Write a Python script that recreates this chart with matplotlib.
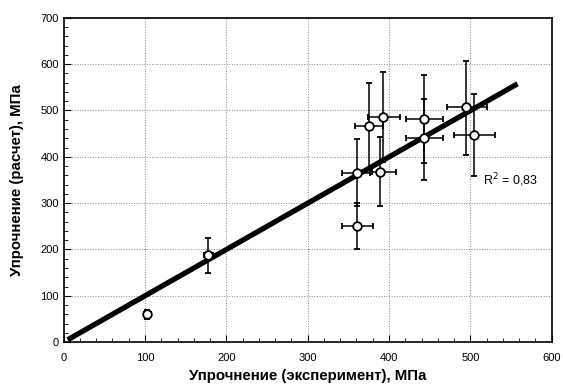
import numpy as np
import matplotlib.pyplot as plt
from matplotlib.ticker import MultipleLocator

plt.rcParams['font.family'] = ['Liberation Sans', 'DejaVu Sans']

# experiment vs calculation, MPa
x_exp = [103, 178, 360.7, 360.7, 375.5, 388.6, 392.6, 443.5, 443.5, 495, 505]
y_calc = [60, 187, 251, 366, 467, 368, 485.7, 481, 440, 507, 447.5]
x_lo = [4, 6, 19, 19, 17.5, 10, 18.5, 22.5, 22.5, 24, 25.5]
x_hi = [4, 6, 19, 15.5, 17, 20.5, 20.5, 22.5, 22.5, 25, 25.5]
y_lo = [10, 38, 50, 73, 95, 74, 96, 95, 90, 104, 90]
y_hi = [10, 37, 50, 72, 92, 74, 97, 95, 85, 99, 88]

fit_x = [5, 558]
fit_y = [5, 557.6]

fig = plt.figure(figsize=(5.63, 3.87), dpi=100)
ax = fig.add_axes([0.113, 0.116, 0.867, 0.838])

ax.plot(fit_x, fit_y, color='black', lw=3.8, solid_capstyle='butt', zorder=3)
ax.errorbar(x_exp, y_calc, xerr=[x_lo, x_hi], yerr=[y_lo, y_hi],
            fmt='o', ms=6.2, mfc='white', mec='black', mew=1.3,
            ecolor='black', elinewidth=1.1, capsize=2.5, capthick=1.1, zorder=4)

ax.text(515, 349, 'R$^2$ = 0,83', fontsize=9, va='center')

ax.set_xlim(0, 600)
ax.set_ylim(0, 700)
ax.xaxis.set_major_locator(MultipleLocator(100))
ax.xaxis.set_minor_locator(MultipleLocator(20))
ax.yaxis.set_major_locator(MultipleLocator(100))
ax.yaxis.set_minor_locator(MultipleLocator(20))
ax.tick_params(which='both', direction='in', labelsize=8)
ax.tick_params(which='major', length=5)
ax.tick_params(which='minor', length=3)
ax.tick_params(axis='x', pad=8)
ax.grid(True, which='major', ls=':', color='#888888', lw=0.7)
for s in ax.spines.values():
    s.set_linewidth(1.2)

ax.set_xlabel('Упрочнение (эксперимент), МПа', fontsize=10.8, fontweight='bold', labelpad=4)
ax.set_ylabel('Упрочнение (расчет), МПа', fontsize=10.8, fontweight='bold', labelpad=12)

fig.savefig('out.png', dpi=100)
